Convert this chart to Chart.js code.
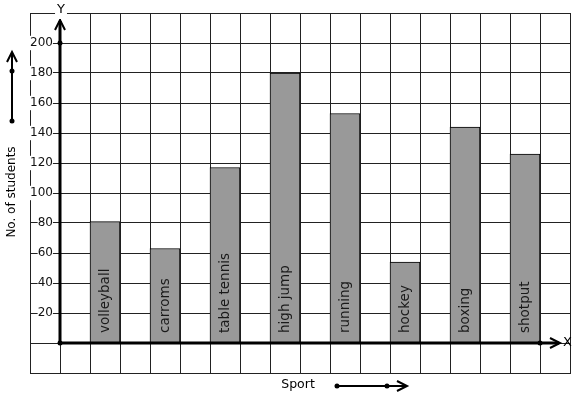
<!DOCTYPE html>
<html>
<head>
<meta charset="utf-8">
<script src="https://cdn.jsdelivr.net/npm/chart.js@4"></script>
<style>
  html, body { margin: 0; padding: 0; background: #fff; }
  #wrap { width: 577px; height: 399px; position: relative; }
</style>
</head>
<body>
<div id="wrap"><canvas id="chart"></canvas></div>
<script>
// sports and number of students
const sports = ['volleyball', 'carroms', 'table tennis', 'high jump', 'running', 'hockey', 'boxing', 'shotput'];
const students = [81, 63, 117, 180, 153, 54, 144, 126];

// y grid runs -20..220 in steps of 20, labels only 20..200
const yMin = -20, yMax = 220, yStep = 20;
const yLabelMin = 20, yLabelMax = 200;
// x grid is 18 cells, bars sit in every second cell starting at cell 2
const xCells = 18;

const FONT = 'DejaVu Sans';
const INK = '#000';

const barData = sports.map((s, i) => ({ x: 2 * i + 2.5, y: students[i] }));

// axis arrows, bar labels and the small side arrows
const decorPlugin = {
  id: 'decor',
  afterDatasetsDraw(chart) {
    const ctx = chart.ctx;
    const xs = chart.scales.x, ys = chart.scales.y;
    const ox = xs.getPixelForValue(1), oy = ys.getPixelForValue(0);
    const area = chart.chartArea;

    // text inside the bars
    const meta = chart.getDatasetMeta(0);
    ctx.save();
    ctx.fillStyle = '#1a1a1a';
    ctx.font = '13.5px ' + FONT;
    ctx.textAlign = 'left';
    ctx.textBaseline = 'middle';
    meta.data.forEach((bar, i) => {
      ctx.save();
      ctx.translate(bar.x, oy - 10);
      ctx.rotate(-Math.PI / 2);
      ctx.fillText(sports[i], 0, 0);
      ctx.restore();
    });
    ctx.restore();

    const dot = (x, y) => {
      ctx.beginPath();
      ctx.arc(x, y, 2.5, 0, Math.PI * 2);
      ctx.fill();
    };
    const chevronUp = (x, y) => {
      ctx.beginPath();
      ctx.moveTo(x - 5, y + 10);
      ctx.lineTo(x, y);
      ctx.lineTo(x + 5, y + 10);
      ctx.stroke();
    };
    const chevronRight = (x, y) => {
      ctx.beginPath();
      ctx.moveTo(x - 10, y - 5);
      ctx.lineTo(x, y);
      ctx.lineTo(x - 10, y + 5);
      ctx.stroke();
    };

    ctx.save();
    ctx.strokeStyle = INK;
    ctx.fillStyle = INK;
    ctx.lineCap = 'butt';

    // y axis
    const yTip = area.top + 7;
    ctx.lineWidth = 3;
    ctx.beginPath();
    ctx.moveTo(ox, oy);
    ctx.lineTo(ox, yTip + 1);
    ctx.stroke();
    ctx.lineWidth = 2;
    chevronUp(ox, yTip);

    // x axis
    const xTip = xs.getPixelForValue(xCells) - 10;
    ctx.lineWidth = 3;
    ctx.beginPath();
    ctx.moveTo(ox, oy);
    ctx.lineTo(xTip - 1, oy);
    ctx.stroke();
    ctx.lineWidth = 2;
    chevronRight(xTip, oy);

    dot(ox, oy);
    dot(ox, ys.getPixelForValue(yLabelMax));
    dot(xs.getPixelForValue(xCells - 1), oy);

    // axis letters
    ctx.font = '13px ' + FONT;
    ctx.textAlign = 'center';
    ctx.textBaseline = 'middle';
    const yw = ctx.measureText('Y').width;
    ctx.fillStyle = '#fff';
    ctx.fillRect(ox + 1 - yw / 2 - 2, area.top - 6, yw + 4, 12);
    ctx.fillStyle = INK;
    ctx.fillText('Y', ox + 1, area.top - 3);
    ctx.textAlign = 'left';
    ctx.fillText('X', xTip + 3, oy);

    // side arrow for the y title
    ctx.lineWidth = 2;
    const sx = 12;
    ctx.beginPath();
    ctx.moveTo(sx, 121);
    ctx.lineTo(sx, 53);
    ctx.stroke();
    chevronUp(sx, 52);
    dot(sx, 71);
    dot(sx, 121);

    // arrow for the x title
    const sy = 386;
    ctx.beginPath();
    ctx.moveTo(337, sy);
    ctx.lineTo(406, sy);
    ctx.stroke();
    chevronRight(407, sy);
    dot(337, sy);
    dot(387, sy);

    // titles
    ctx.font = '12.5px ' + FONT;
    ctx.textAlign = 'center';
    ctx.fillText('Sport', 298, 385);
    ctx.save();
    ctx.translate(12, 192);
    ctx.rotate(-Math.PI / 2);
    ctx.font = '12px ' + FONT;
    ctx.fillText('No. of students', 0, 0);
    ctx.restore();

    ctx.restore();
  }
};

new Chart(document.getElementById('chart'), {
  type: 'bar',
  data: {
    datasets: [{
      data: barData,
      backgroundColor: '#999999',
      borderColor: '#000',
      borderWidth: { top: 1, left: 1, right: 1, bottom: 0 },
      borderSkipped: false,
      barThickness: 30
    }]
  },
  options: {
    responsive: true,
    maintainAspectRatio: false,
    animation: false,
    layout: { padding: { left: 30, right: 7, top: 13, bottom: 26 } },
    plugins: {
      legend: { display: false },
      tooltip: { enabled: false }
    },
    scales: {
      x: {
        type: 'linear',
        min: 0,
        max: xCells,
        offset: false,
        ticks: { display: false, stepSize: 1 },
        grid: { color: '#222', lineWidth: 1, drawTicks: false, offset: false },
        border: { display: true, color: '#222', width: 1 }
      },
      y: {
        min: yMin,
        max: yMax,
        ticks: {
          stepSize: yStep,
          mirror: true,
          crossAlign: 'far',
          padding: 0,
          color: '#111',
          font: { family: FONT, size: 12 },
          showLabelBackdrop: true,
          backdropColor: '#fff',
          backdropPadding: 0,
          callback: v => (v >= yLabelMin && v <= yLabelMax) ? String(v) : ''
        },
        grid: { color: '#222', lineWidth: 1, drawTicks: false },
        border: { display: true, color: '#222', width: 1 }
      }
    }
  },
  plugins: [decorPlugin]
});
</script>
</body>
</html>
